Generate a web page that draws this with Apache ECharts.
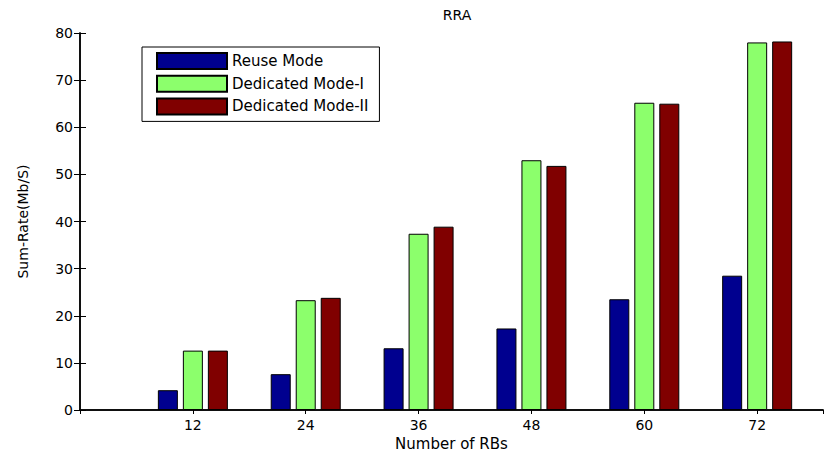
<!DOCTYPE html>
<html><head><meta charset="utf-8">
<script src="https://cdn.jsdelivr.net/npm/echarts@6/dist/echarts.min.js"></script>
<style>html,body{margin:0;padding:0;background:#fff}#c{width:825px;height:453px}</style>
</head><body><div id="c"></div>
<script>
const categories = [12, 24, 36, 48, 60, 72];
const reuseMode = [4.2, 7.6, 13.1, 17.3, 23.5, 28.5];
const dedicatedModeI = [12.6, 23.3, 37.4, 53.0, 65.2, 78.0];
const dedicatedModeII = [12.6, 23.8, 38.9, 51.8, 65.0, 78.2];
const seriesNames = ['Reuse Mode', 'Dedicated Mode-I', 'Dedicated Mode-II'];
const seriesColors = ['#00008f', '#8cff6c', '#800000'];

const FONT = 'DejaVu Sans';
const chart = echarts.init(document.getElementById('c'), null, {renderer: 'svg'});

function mkSeries(name, vals, color) {
  return {
    name: name, type: 'bar', xAxisIndex: 0, yAxisIndex: 0,
    barWidth: 20, barGap: '25%',
    data: categories.map((c, i) => [c, vals[i]]),
    itemStyle: {color: color, borderColor: '#000', borderWidth: 1},
    emphasis: {disabled: true}
  };
}

const axisLineStyle = {show: true, lineStyle: {color: '#000', width: 1.5}};

chart.setOption({
  animation: false,
  backgroundColor: '#fff',
  title: {
    text: 'RRA', left: 452, top: 3, textAlign: 'center',
    textStyle: {fontFamily: FONT, fontSize: 14, fontWeight: 'normal', color: '#000'}
  },
  legend: {
    orient: 'vertical', left: 142, top: 47,
    padding: [5, 11, 6, 14],
    itemWidth: 70, itemHeight: 16, itemGap: 4.7, itemTextGap: 7,
    borderColor: '#000', borderWidth: 1, backgroundColor: '#fff',
    icon: 'rect',
    data: seriesNames,
    textStyle: {fontFamily: FONT, fontSize: 15, color: '#000', width: 179}
  },
  grid: {left: 80, right: 2, top: 33, bottom: 43, containLabel: false, outerBoundsMode: 'none'},
  xAxis: [{
    type: 'value', position: 'bottom', min: 0, max: 79, interval: 12,
    axisLine: axisLineStyle,
    axisTick: {show: true, inside: true, length: 4, lineStyle: {color: '#000'}},
    axisLabel: {
      showMinLabel: false, showMaxLabel: false, margin: 8,
      fontFamily: FONT, fontSize: 14, color: '#000',
      formatter: v => (categories.indexOf(v) >= 0 ? String(v) : '')
    },
    splitLine: {show: false},
    name: 'Number of RBs', nameLocation: 'middle', nameGap: 22,
    nameTextStyle: {fontFamily: FONT, fontSize: 15, color: '#000'}
  }, {
    type: 'value', position: 'top', min: 0, max: 79, interval: 12,
    axisLine: axisLineStyle,
    axisTick: {show: true, inside: true, length: 4, lineStyle: {color: '#000'}},
    axisLabel: {show: false}, splitLine: {show: false}
  }],
  yAxis: [{
    type: 'value', position: 'left', min: 0, max: 80, interval: 10,
    axisLine: axisLineStyle,
    axisTick: {show: true, inside: true, length: 6, lineStyle: {color: '#000'}},
    axisLabel: {margin: 7, fontFamily: FONT, fontSize: 14, color: '#000'},
    splitLine: {show: false},
    name: 'Sum-Rate(Mb/S)', nameLocation: 'middle', nameGap: 50,
    nameTextStyle: {fontFamily: FONT, fontSize: 14, color: '#000'}
  }, {
    type: 'value', position: 'right', min: 0, max: 80, interval: 10,
    axisLine: axisLineStyle,
    axisTick: {show: true, inside: true, length: 6, lineStyle: {color: '#000'}},
    axisLabel: {show: false}, splitLine: {show: false}
  }],
  series: [
    mkSeries(seriesNames[0], reuseMode, seriesColors[0]),
    mkSeries(seriesNames[1], dedicatedModeI, seriesColors[1]),
    mkSeries(seriesNames[2], dedicatedModeII, seriesColors[2])
  ]
});
</script></body></html>
